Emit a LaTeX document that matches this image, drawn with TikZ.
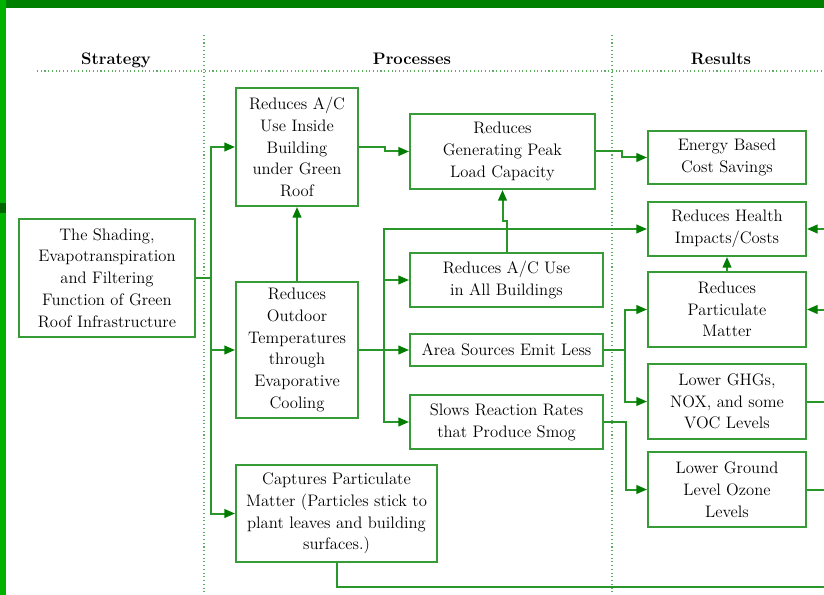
\documentclass[tikz,border=0pt]{standalone}
\usetikzlibrary{arrows.meta}
\definecolor{topbar}{RGB}{0,128,0}
\definecolor{leftstrip}{RGB}{0,178,0}
\definecolor{leftdark}{RGB}{0,100,0}
\definecolor{lineg}{RGB}{40,150,40}
\definecolor{boxg}{RGB}{55,155,55}
\definecolor{tipg}{RGB}{0,125,0}
\definecolor{dotg}{RGB}{95,175,95}
\tikzset{
  box/.style 2 args={draw=boxg, line width=1.5pt, minimum width=#1*0.75pt, minimum height=#2*0.75pt,
    inner sep=0pt, align=center, font=\rmfamily\fontsize{12.5}{16.3}\selectfont},
  conn/.style={draw=lineg, line width=1.5pt},
  arr/.style={conn, -{Triangle[length=8pt,width=6.5pt,fill=tipg,color=tipg]}},
  dots/.style={draw=dotg, line width=0.8pt, dotted},
  hdr/.style={font=\rmfamily\fontsize{12.5}{15}\selectfont\bfseries, anchor=base}
}
\begin{document}
\begin{tikzpicture}[x=0.75pt,y=-0.75pt]
\useasboundingbox (0,0) rectangle (824,595);
% frame
\fill[topbar] (6,0) rectangle (824,8);
\fill[leftstrip] (0,0) rectangle (6,595);
\fill[leftdark] (0,203) rectangle (6,213);
% grid
\draw[dots] (204,35) -- (204,595);
\draw[dots] (612,35) -- (612,595);
\draw[dots] (37,71) -- (824,71);
% headers
\node[hdr] (hs) at (116,65) {Strategy};
\node[hdr] (hp) at (412,65) {Processes};
\node[hdr] (hr) at (721,65) {Results};
% boxes
\node[box={176}{118}] (strat) at (107,278) {The Shading,\\Evapotranspiration\\and Filtering\\Function of Green\\Roof Infrastructure};
\node[box={122}{118}] (acin) at (297,147) {Reduces A/C\\Use Inside\\Building\\under Green\\Roof};
\node[box={185}{75}] (peak) at (502.5,151.5) {Reduces\\Generating Peak\\Load Capacity};
\node[box={122}{136}] (outd) at (297,350) {Reduces\\Outdoor\\Temperatures\\through\\Evaporative\\Cooling};
\node[box={193}{54}] (acall) at (506.5,280) {Reduces A/C Use\\in All Buildings};
\node[box={193}{32}] (area) at (506.5,350) {Area Sources Emit Less};
\node[box={193}{54}] (slows) at (506.5,422) {Slows Reaction Rates\\that Produce Smog};
\node[box={201}{97}] (capt) at (336.5,513.5) {Captures Particulate\\Matter (Particles stick to\\plant leaves and building\\surfaces.)};
\node[box={158}{53}] (energy) at (727,157.5) {Energy Based\\Cost Savings};
\node[box={158}{54}] (health) at (727,229) {Reduces Health\\Impacts/Costs};
\node[box={158}{75}] (partic) at (727,309.5) {Reduces\\Particulate\\Matter};
\node[box={158}{75}] (ghg) at (727,401.5) {Lower GHGs,\\NOX, and some\\VOC Levels};
\node[box={158}{75}] (ozone) at (727,489.5) {Lower Ground\\Level Ozone\\Levels};
% junctions
\coordinate (tA) at (211,278);
\coordinate (tB) at (384,350);
\coordinate (tC) at (625,350);
\coordinate (eH) at (824,229);
\coordinate (eP) at (824,309.5);
\coordinate (eG) at (824,401.5);
\coordinate (eO) at (824,489.5);
\coordinate (eB) at (824,587);
% connectors
\draw[conn] (strat.east) -- (tA);
\draw[arr] (tA) |- (acin.west);
\draw[arr] (tA) |- (outd.west);
\draw[arr] (tA) |- (capt.west);
\draw[arr] (outd.north) -- (acin.south);
\draw[arr] (acin.east) -- ++(26,0) |- (peak.west);
\draw[conn] (outd.east) -- (tB);
\draw[arr] (tB) |- (acall.west);
\draw[arr] (tB) -- (area.west);
\draw[arr] (tB) |- (slows.west);
\draw[arr] (tB) |- (health.west);
\draw[arr] (acall.north) -- ++(0,-31) -| (peak.south);
\draw[arr] (peak.east) -- ++(26,0) |- (energy.west);
\draw[conn] (area.east) -- (tC);
\draw[arr] (tC) |- (partic.west);
\draw[arr] (tC) |- (ghg.west);
\draw[arr] (slows.east) -- ++(22,0) |- (ozone.west);
\draw[arr] (partic.north) -- (health.south);
\draw[arr] (eH) -- (health.east);
\draw[arr] (eP) -- (partic.east);
\draw[conn] (ghg.east) -- (eG);
\draw[conn] (ozone.east) -- (eO);
\draw[conn] (capt.south) |- (eB);
\end{tikzpicture}
\end{document}
